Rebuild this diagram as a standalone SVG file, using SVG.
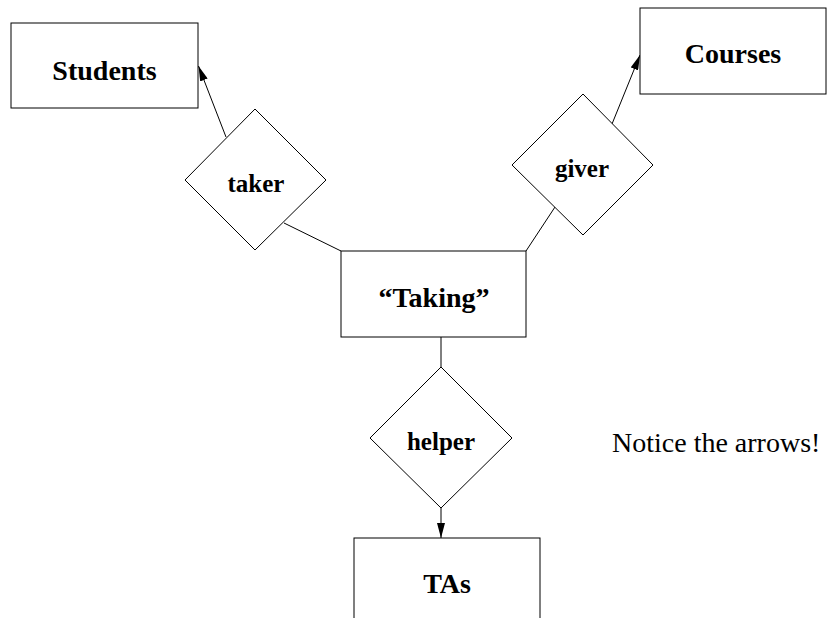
<svg xmlns="http://www.w3.org/2000/svg" width="827" height="618" viewBox="0 0 827 618">
  <style>
    .shape { fill: #fff; stroke: #000; stroke-width: 1; }
    .edge { fill: none; stroke: #000; stroke-width: 1; }
    .lbl { font-family: "Liberation Serif", "Times New Roman", serif; font-weight: bold; text-anchor: middle; fill: #000; }
    .ent { font-size: 28px; }
    .rel { font-size: 25px; }
    .note { font-family: "Liberation Serif", "Times New Roman", serif; font-size: 28px; fill: #000; }
  </style>
  <defs>
    <marker id="arrow" viewBox="0 0 15 8" refX="15" refY="4" markerWidth="15" markerHeight="8" markerUnits="userSpaceOnUse" orient="auto">
      <path d="M0,0 L15,4 L0,8 Z" fill="#000"/>
    </marker>
  </defs>
  <rect width="827" height="618" fill="#fff"/>

  <!-- connectors: relationship diamonds to entity boxes -->
  <g id="connectors">
    <line class="edge" x1="226" y1="137" x2="198.5" y2="66" marker-end="url(#arrow)"/>
    <line class="edge" x1="284" y1="223" x2="341" y2="251"/>
    <line class="edge" x1="612" y1="124" x2="640" y2="55" marker-end="url(#arrow)"/>
    <line class="edge" x1="555" y1="207" x2="526" y2="251"/>
    <line class="edge" x1="441" y1="337" x2="441" y2="367"/>
    <line class="edge" x1="441" y1="508" x2="441" y2="538" marker-end="url(#arrow)"/>
  </g>

  <g id="students">
    <rect class="shape" x="11" y="23" width="187" height="85"/>
    <text class="lbl ent" x="104.5" y="80">Students</text>
  </g>

  <g id="courses">
    <rect class="shape" x="640" y="8" width="186" height="86"/>
    <text class="lbl ent" x="733" y="63">Courses</text>
  </g>

  <g id="taker">
    <polygon class="shape" points="255,109 326,180 255,250 185,180"/>
    <text class="lbl rel" x="256" y="192">taker</text>
  </g>

  <g id="giver">
    <polygon class="shape" points="583,94 653,165 583,235 512,165"/>
    <text class="lbl rel" x="582" y="177">giver</text>
  </g>

  <g id="taking">
    <rect class="shape" x="341" y="251" width="185" height="86"/>
    <text class="lbl ent" x="434" y="307">“Taking”</text>
  </g>

  <g id="helper">
    <polygon class="shape" points="441,367 512,438 441,508 370,438"/>
    <text class="lbl rel" x="441" y="450">helper</text>
  </g>

  <g id="tas">
    <rect class="shape" x="354" y="538" width="186" height="100"/>
    <text class="lbl ent" x="447" y="593">TAs</text>
  </g>

  <g id="note">
    <text class="note" x="612" y="452">Notice the arrows!</text>
  </g>
</svg>
